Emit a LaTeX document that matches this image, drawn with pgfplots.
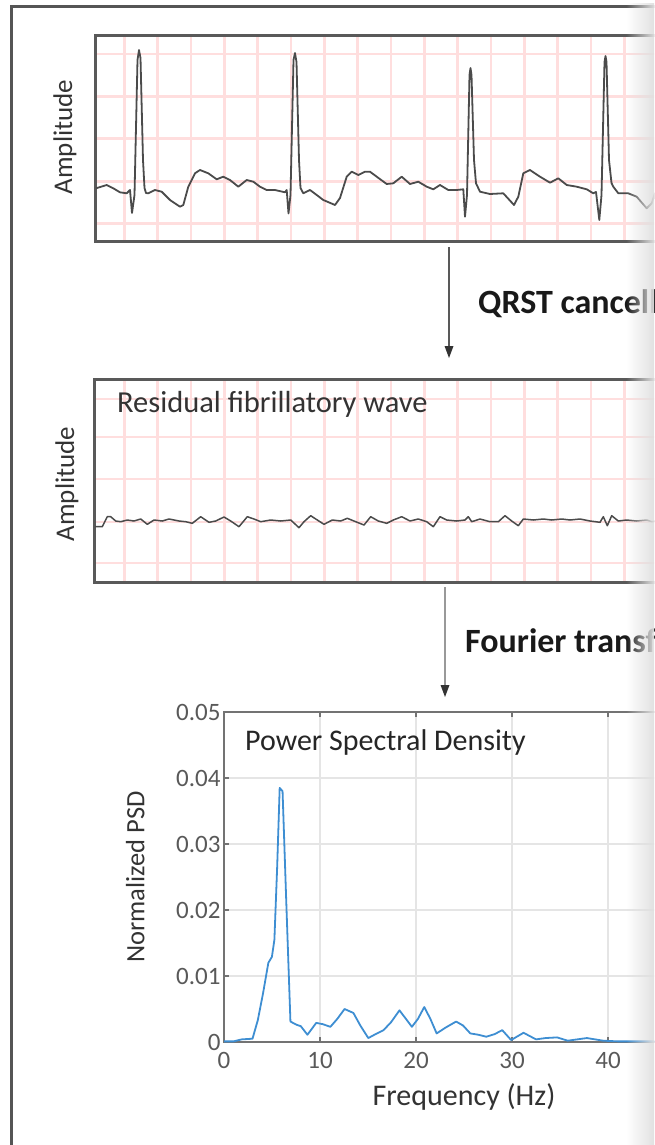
\documentclass[border=0pt]{standalone}
\usepackage{pgfplots}
\pgfplotsset{compat=1.18}
\usepackage{fontspec}
\setmainfont{Carlito}
\usetikzlibrary{fadings}
\definecolor{psdblue}{RGB}{62,142,210}
\definecolor{frame}{RGB}{85,85,85}
\definecolor{ecg}{RGB}{75,75,75}
\definecolor{ecggrid}{RGB}{255,222,222}
\tikzfading[name=fadeR, left color=transparent!100, right color=transparent!0]
\newcommand{\fs}[1]{\fontsize{#1pt}{#1pt}\selectfont}
\begin{document}
\begin{tikzpicture}[x=1pt,y=-1pt]
\path[use as bounding box, clip] (0,0) rectangle (654,1145);
% outer frame
\draw[frame, line width=3pt] (11.5,7) rectangle (900,1300);

% ---------------- Panel 1: ECG ----------------
\begin{axis}[scale only axis, at={(95pt,-35pt)}, anchor=north west,
  width=610pt, height=206pt, xmin=95, xmax=705, ymin=35, ymax=241, y dir=reverse,
  xtick={124.3,157.6,191,224.3,257.6,291,324.3,357.6,391,424.3,457.6,491,524.3,557.6,591,624.3,657.6},
  ytick={54,96.7,138.3,181.7,223.3},
  xticklabels={}, yticklabels={}, tick style={draw=none},
  grid=major, major grid style={ecggrid, line width=2.5pt},
  axis line style={black!65, line width=3pt}]
\addplot[ecg, line width=1.8pt, line join=round] coordinates {
(96,188.3) (106.7,185) (113.3,188.3) (120,192.3) (126.7,193.3) (130,190)
(132,213) (134.5,195) (137.5,60) (139,50) (140.5,58) (143,160) (144.5,188) (146,193)
(148.3,193.3) (155,190) (161.7,191.7) (170,200) (180,206.7) (183.3,205) (188.3,186.7)
(195,173.3) (200,170) (208.3,173.3) (216.7,179.3) (223.3,176.7) (230,180) (238.3,186.7)
(246.7,180) (253.3,181.7) (260,186.7) (266.7,190) (275,190) (285,192.3) (286.7,190)
(288.5,213.5) (290.5,195) (293.5,60) (295,53) (296.5,62) (299,160) (300.5,188)
(303.3,193.3) (310,190) (316.7,195) (323.3,200) (335,205) (340,198) (346.7,176.7)
(351.7,171.7) (358.3,175) (365,171.7) (370,171.7) (376.7,176.7) (386.7,184) (393.3,183.3)
(401.7,176.7) (410,184) (418.3,181.7) (426.7,186.7) (433.3,189.3) (440,185) (448.3,190)
(456.7,190) (463.3,189.3) (465,216.7) (467,195) (469.5,75) (470.5,68) (471.5,75)
(474,160) (476,183.3) (480,191.7) (490,194) (503.3,193.3) (514,205) (518.3,196.7)
(523.3,173.3) (530,170) (540,176.7) (550,182.7) (558.3,178.3) (566.7,185) (576.7,186.7)
(586.7,189.3) (593.3,193.3) (596,192) (599.3,220) (601.5,195) (604.5,62) (605.5,56)
(606.5,62) (609,160) (611.5,183) (613.3,186.7) (618.3,193.3) (628.3,193.3) (636.7,196.7)
(646.7,208.3) (651.7,203.3) (656,190) (660,185)
};
\end{axis}
\node[rotate=90, text=black!80, inner sep=0pt] at (65,137) {\fs{27}Amplitude};

% arrow 1
\draw[black!65, line width=1.5pt] (449,247) -- (449,347);
\fill[black!80] (444.5,346) -- (453.5,346) -- (449,358) -- cycle;
\node[anchor=base west, inner sep=0pt, text=black!90] at (478,313) {\fs{34}\bfseries QRST cancellation};

% ---------------- Panel 2: residual ----------------
\begin{axis}[scale only axis, at={(94pt,-379pt)}, anchor=north west,
  width=611pt, height=203pt, xmin=94, xmax=705, ymin=379, ymax=582, y dir=reverse,
  xtick={124.3,157.6,191,224.3,257.6,291,324.3,357.6,391,424.3,457.6,491,524.3,557.6,591,624.3,657.6},
  ytick={399,437,479,522,563},
  xticklabels={}, yticklabels={}, tick style={draw=none},
  grid=major, major grid style={ecggrid, line width=2.5pt},
  axis line style={black!65, line width=3pt}]
\addplot[ecg, line width=1.5pt, line join=round] coordinates {
(95,526.7) (102.3,526.7) (107.3,516.7) (110.7,516.7) (115.7,521) (120.7,521.7) (127.3,520)
(134,521) (140.7,519) (147.3,524.3) (154,520) (162.3,521) (169,519) (179,521) (185.7,521.7)
(192.3,523.3) (200.7,516.7) (209,522.3) (215.7,521) (224,517) (230.7,521) (239,526.7)
(247.3,516.7) (254,519) (260.7,521.7) (270.7,520) (280.7,521) (290.7,520) (299,527.7)
(304,521.7) (310.7,515.7) (317.3,520) (324,524.3) (332.3,520) (340.7,521) (347.3,518.3)
(355.7,521.7) (364,525) (370.7,516.7) (378.3,521) (386.7,523.3) (393.3,520) (401.7,516.7)
(410,521) (418.3,519) (426.7,521.7) (433.3,526.7) (440,516.7) (446.7,520) (456.7,521)
(465,520) (468.3,516.7) (471.7,521.7) (480,519) (490,521.7) (498.3,521.7) (505,515.7)
(511.7,521) (518.3,525.7) (523.3,519) (533.3,520) (543.3,519) (551.7,520) (561.7,519)
(570,520) (580,519) (590,521) (600,522.3) (603.3,516.7) (607.3,525.7) (611.7,515.7)
(618.3,521) (626.7,520) (636.7,521) (646.7,520) (652,521.7) (660,520)
};
\end{axis}
\node[anchor=base west, inner sep=0pt, text=black!80] at (117,412) {\fs{30.5}Residual fibrillatory wave};
\node[rotate=90, text=black!80, inner sep=0pt] at (67,484) {\fs{27}Amplitude};

% arrow 2
\draw[black!40, line width=1.5pt] (445,587) -- (445,686);
\fill[black!80] (440.5,685) -- (449.5,685) -- (445,697) -- cycle;
\node[anchor=base west, inner sep=0pt, text=black!90] at (465,652) {\fs{34}\bfseries Fourier transform};

% ---------------- Panel 3: PSD ----------------
\begin{axis}[scale only axis, at={(224pt,-1042pt)}, anchor=south west,
  width=480pt, height=330pt, xmin=0, xmax=50, ymin=0, ymax=0.05,
  xtick={0,10,20,30,40,50}, xticklabels={0,10,20,30,40,{}},
  ytick={0,0.01,0.02,0.03,0.04,0.05}, yticklabels={0,0.01,0.02,0.03,0.04,0.05},
  scaled y ticks=false,
  tick align=inside, major tick length=5pt,
  tick style={black!55, line width=1.5pt},
  grid=major, major grid style={black!10, line width=1.5pt},
  axis line style={black!55, line width=1.8pt},
  ticklabel style={font=\fs{25}, text=black!65},
  xticklabel style={yshift=-7pt},
  xlabel={\fs{30}Frequency (Hz)}, ylabel={\fs{26.5}Normalized PSD},
  xlabel style={at={(axis description cs:0.5,-0.167)}, anchor=center, text=black!80},
  ylabel style={at={(axis description cs:-0.185,0.5)}, anchor=center, text=black!80},
  clip=false]
\addplot[psdblue, line width=1.8pt, line join=round] table {
f v
0 0.0001
1 0.0001
1.85 0.0004
2.97 0.0005
3.52 0.0033
4.07 0.0074
4.62 0.012
4.99 0.0129
5.25 0.0155
5.54 0.0266
5.8 0.0385
6.1 0.038
6.48 0.0215
6.92 0.0031
7.58 0.0026
8.0 0.0024
8.69 0.0011
9.61 0.0029
10.3 0.0027
11.08 0.0023
11.8 0.0035
12.56 0.005
13.48 0.0044
14.2 0.0025
15.03 0.0006
15.8 0.0012
16.62 0.0018
17.4 0.003
18.28 0.0048
18.9 0.0036
19.57 0.0023
20.2 0.0035
20.86 0.0053
21.5 0.0035
22.15 0.0013
23.1 0.0022
24.18 0.0031
24.9 0.0025
25.66 0.0013
26.5 0.0011
27.32 0.0008
28.2 0.0012
28.98 0.0018
29.91 0.0003
31.2 0.0014
32.5 0.0004
33.5 0.0006
34.7 0.0007
35.8 0.0002
37.8 0.0006
39.5 0.0002
41 0.0001
50 0.0001
};
\end{axis}
\node[anchor=base west, inner sep=0pt, text=black!85] at (245,750) {\fs{30}Power Spectral Density};

% right-edge fade
\fill[black!12, path fading=fadeR] (626,0) rectangle (655,1145);
\end{tikzpicture}
\end{document}
